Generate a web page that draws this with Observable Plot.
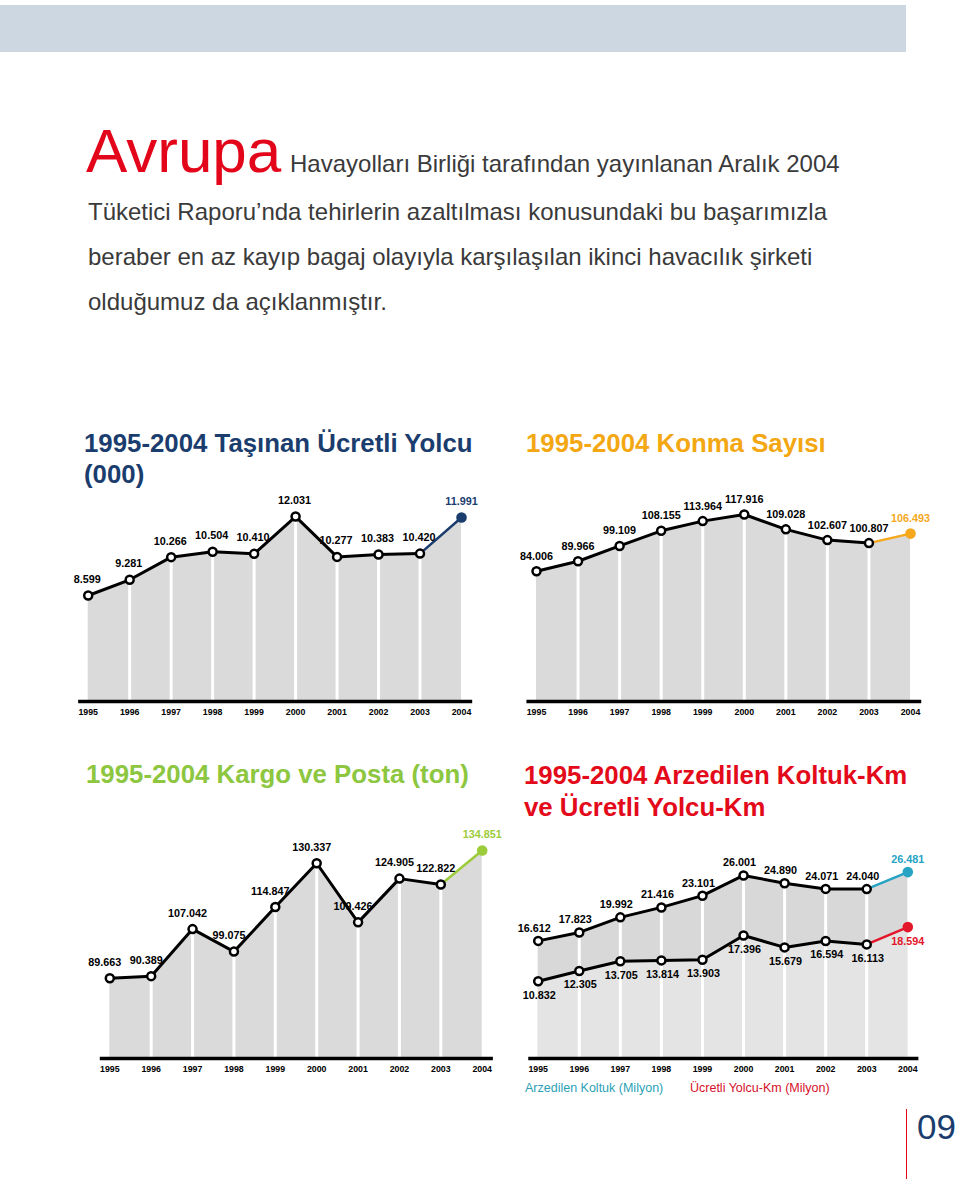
<!DOCTYPE html>
<html><head><meta charset="utf-8">
<script src="https://cdn.jsdelivr.net/npm/d3@7"></script>
<script src="https://cdn.jsdelivr.net/npm/@observablehq/plot@0.6"></script>
<style>
body{margin:0;background:#fff;}
#page{position:relative;width:960px;height:1179px;overflow:hidden;font-family:"Liberation Sans",Arial,sans-serif;}
.abs{position:absolute;white-space:nowrap;}
.title{font-weight:bold;font-size:25.8px;line-height:31px;}
.body{font-size:24px;line-height:24px;color:#3a3a3a;}
.legend{font-size:12.5px;line-height:16px;}
</style></head><body>
<div id="page">
  <div class="abs" style="left:0;top:5px;width:906px;height:47px;background:#cdd7e1"></div>
  <div class="abs" style="left:86px;top:119px;font-size:62px;line-height:64px;color:#e3061b;">Avrupa</div>
  <div class="abs body" style="left:290px;top:152px;">Havayolları Birliği tarafından yayınlanan Aralık 2004</div>
  <div class="abs body" style="left:88px;top:200px;">Tüketici Raporu’nda tehirlerin azaltılması konusundaki bu başarımızla</div>
  <div class="abs body" style="left:88px;top:245px;">beraber en az kayıp bagaj olayıyla karşılaşılan ikinci havacılık şirketi</div>
  <div class="abs body" style="left:88px;top:290px;">olduğumuz da açıklanmıştır.</div>

  <div class="abs title" style="left:84px;top:428px;color:#1b3d6e;">1995-2004 Taşınan Ücretli Yolcu<br>(000)</div>
  <div class="abs title" style="left:526px;top:428px;color:#f3a712;">1995-2004 Konma Sayısı</div>
  <div class="abs title" style="left:86px;top:759px;color:#8dc63f;">1995-2004 Kargo ve Posta (ton)</div>
  <div class="abs title" style="left:524px;top:759px;line-height:32px;color:#e30a1a;">1995-2004 Arzedilen Koltuk-Km<br>ve Ücretli Yolcu-Km</div>

  <div id="c1" class="abs" style="left:60px;top:470px;"></div>
  <div id="c2" class="abs" style="left:500px;top:470px;"></div>
  <div id="c3" class="abs" style="left:60px;top:820px;"></div>
  <div id="c4" class="abs" style="left:500px;top:820px;"></div>

  <div class="abs legend" style="left:525px;top:1080px;color:#2a9fb6;">Arzedilen Koltuk (Milyon)</div>
  <div class="abs legend" style="left:690px;top:1080px;color:#d5102a;">Ücretli Yolcu-Km (Milyon)</div>

  <div class="abs" style="left:906px;top:1109px;width:1px;height:70px;background:#e3061b;"></div>
  <div class="abs" style="left:917px;top:1107px;font-size:35px;line-height:40px;color:#1b3d6e;font-weight:300;">09</div>
</div>
<script>
// ---- data ----
const years = [1995, 1996, 1997, 1998, 1999, 2000, 2001, 2002, 2003, 2004];
const passengers = [8599, 9281, 10266, 10504, 10410, 12031, 10277, 10383, 10420, 11991];
const landings = [84006, 89966, 99109, 108155, 113964, 117916, 109028, 102607, 100807, 106493];
const cargo = [89663, 90389, 107042, 99075, 114847, 130337, 109426, 124905, 122822, 134851];
const seatKm = [16612, 17823, 19992, 21416, 23101, 26001, 24890, 24071, 24040, 26481];
const paxKm = [10832, 12305, 13705, 13814, 13903, 17396, 15679, 16594, 16113, 18594];

const fmt = d3.formatLocale({decimal: ",", thousands: ".", grouping: [3], currency: ["", ""]}).format(",d");

function drawChart(el, cfg) {
  const {series, lo, hi, width, height, mL, mR, mt, mb} = cfg;
  const rows = series.map(s => years.map((year, i) => ({year, v: s.values[i]})));
  const marks = [];
  series.forEach((s, j) => marks.push(Plot.areaY(rows[j], {x: "year", y1: lo, y2: "v", fill: s.fill})));
  marks.push(Plot.ruleX(rows[0].slice(1, -1), {x: "year", y1: lo, y2: "v", stroke: "white", strokeWidth: 3}));
  marks.push(Plot.ruleY([lo], {x1: 1994.77, x2: 2004.27, stroke: "black", strokeWidth: 3.5}));
  series.forEach((s, j) => {
    const r = rows[j];
    marks.push(Plot.line(r.slice(-2), {x: "year", y: "v", stroke: s.color, strokeWidth: 2.5}));
    marks.push(Plot.line(r.slice(0, -1), {x: "year", y: "v", stroke: "black", strokeWidth: 3}));
    marks.push(Plot.dot(r.slice(0, -1), {x: "year", y: "v", r: 4, fill: "white", stroke: "black", strokeWidth: 2.5}));
    marks.push(Plot.dot(r.slice(-1), {x: "year", y: "v", r: 5.3, fill: s.color}));
    marks.push(Plot.text(r.slice(0, -1), {x: "year", y: "v", text: d => fmt(d.v), dx: s.dx, dy: s.dy, fill: "black", fontWeight: "bold", fontSize: 10.8}));
    marks.push(Plot.text(r.slice(-1), {x: "year", y: "v", text: d => fmt(d.v), dx: 0, dy: s.dy, fill: s.color, fontWeight: "bold", fontSize: 10.8}));
  });
  marks.push(Plot.axisX(years, {tickSize: 0, tickPadding: 7, tickFormat: d => String(d), fontSize: 8.8, fontWeight: "bold", fill: "black", label: null}));
  const p = Plot.plot({
    width, height, marginLeft: mL, marginRight: mR, marginTop: mt, marginBottom: mb,
    x: {domain: [1995, 2004]},
    y: {domain: [lo, hi], axis: null},
    style: {fontFamily: "'Liberation Sans', Arial, sans-serif", background: "transparent", overflow: "visible"},
    marks
  });
  document.getElementById(el).appendChild(p);
}

drawChart("c1", {
  series: [{values: passengers, color: "#1b3d6e", fill: "#dadada", dx: -1, dy: -16}],
  lo: 3990, hi: 13164, width: 440, height: 260, mL: 27.7, mR: 39, mt: 20, mb: 29
});
drawChart("c2", {
  series: [{values: landings, color: "#f5a81c", fill: "#dadada", dx: 0, dy: -15}],
  lo: 6080, hi: 132270, width: 440, height: 260, mL: 36, mR: 30, mt: 20, mb: 29
});
drawChart("c3", {
  series: [{values: cargo, color: "#9ccb3b", fill: "#dadada", dx: -5, dy: -16}],
  lo: 61250, hi: 141930, width: 440, height: 270, mL: 49.3, mR: 18.3, mt: 10, mb: 32
});
drawChart("c4", {
  series: [
    {values: seatKm, color: "#27a3c4", fill: "#d8d8d8", dx: -4, dy: -12.5},
    {values: paxKm, color: "#e3162a", fill: "#e4e4e4", dx: 1, dy: 14}
  ],
  lo: -258, hi: 32450, width: 440, height: 270, mL: 37.7, mR: 32.7, mt: 10, mb: 32
});
</script>
</body></html>
